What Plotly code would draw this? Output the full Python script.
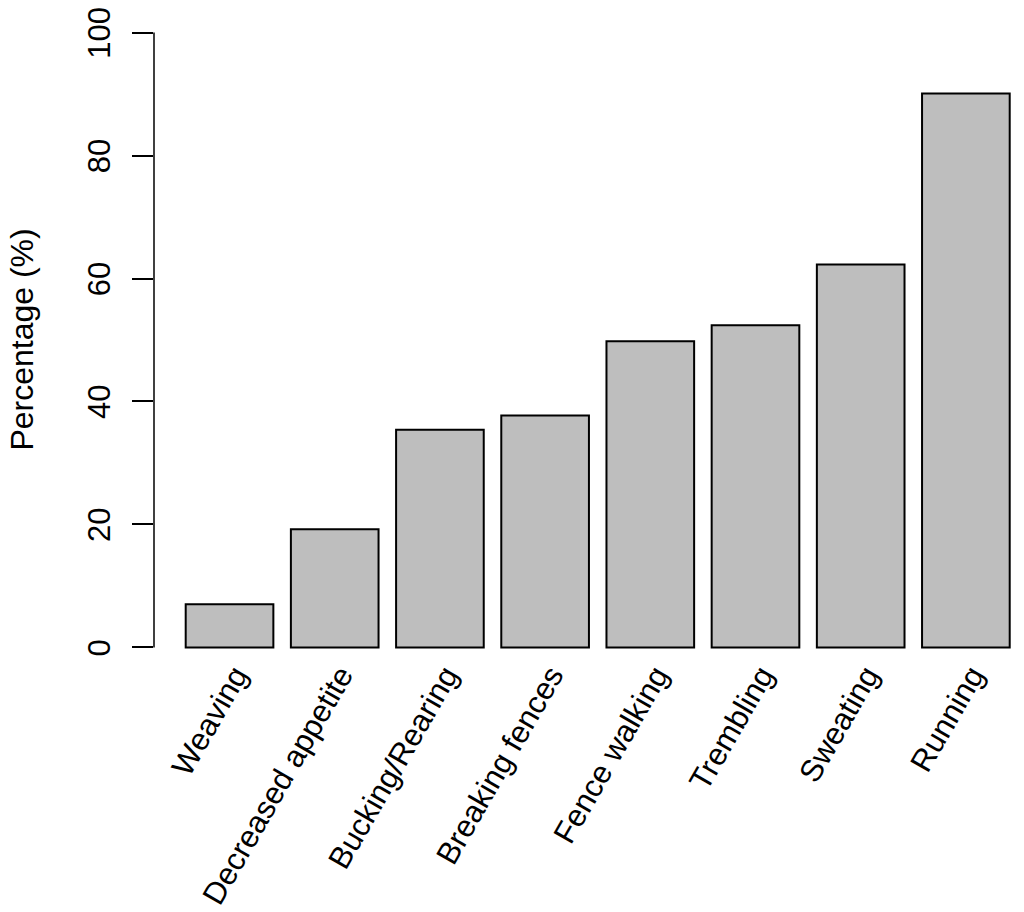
import plotly.graph_objects as go

categories = ["Weaving", "Decreased appetite", "Bucking/Rearing", "Breaking fences",
              "Fence walking", "Trembling", "Sweating", "Running"]
percentages = [7.0, 19.2, 35.4, 37.7, 49.8, 52.4, 62.3, 90.1]
y_ticks = [0, 20, 40, 60, 80, 100]
y_title = "Percentage (%)"

FONT = "Liberation Sans, Arial, sans-serif"
FS = 32

fig = go.Figure()
fig.add_trace(go.Bar(
    x=categories, y=percentages,
    marker=dict(color="#bebebe", line=dict(color="black", width=2)),
    width=0.8333,
))

# y axis line from 0 to 100 (R style)
fig.add_shape(type="line", xref="paper", yref="y", x0=0, x1=0, y0=0, y1=100,
              line=dict(color="black", width=1.5))

# y axis title as a rotated annotation
fig.add_annotation(text=y_title, xref="paper", yref="paper", x=-0.152, y=0.5,
                   xanchor="center", yanchor="middle", textangle=-90,
                   showarrow=False, font=dict(size=FS, family=FONT, color="black"))

fig.update_layout(
    width=1024, height=912,
    margin=dict(l=146, r=7, t=0, b=248, pad=0),
    plot_bgcolor="white", paper_bgcolor="white",
    showlegend=False,
    font=dict(family=FONT, size=FS, color="black"),
    xaxis=dict(
        range=[-0.718, 7.562], showline=False, showgrid=False, zeroline=False,
        ticks="", tickangle=-60, tickfont=dict(size=31), automargin=False,
        ticklabelstandoff=-22, ticklabelshift=6, ticklabeloverflow="allow",
    ),
    yaxis=dict(
        range=[-4, 104], tickvals=y_ticks, ticktext=[str(v) for v in y_ticks],
        showline=False, showgrid=False, zeroline=False,
        ticks="outside", ticklen=21, tickwidth=1.5, tickcolor="black",
        tickangle=-90, tickfont=dict(size=31), ticklabelstandoff=10,
        ticklabelshift=5, ticklabeloverflow="allow",
        automargin=False,
    ),
)

fig.write_html("out.html")
